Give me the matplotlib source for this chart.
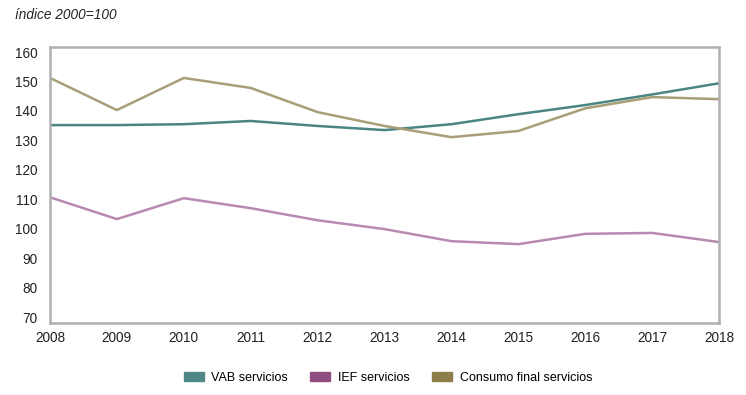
import matplotlib
matplotlib.use("Agg")
import matplotlib.pyplot as plt
from matplotlib.patches import Patch

plt.rcParams['font.family'] = ['Liberation Sans', 'DejaVu Sans']

# datos (índice 2000=100)
years = [2008, 2009, 2010, 2011, 2012, 2013, 2014, 2015, 2016, 2017, 2018]
vab = [135.2, 135.2, 135.5, 136.6, 134.9, 133.5, 135.5, 138.9, 142.0, 145.6, 149.4]
ief = [110.7, 103.3, 110.4, 107.0, 102.9, 99.9, 95.8, 94.8, 98.3, 98.6, 95.5]
consumo = [151.2, 140.3, 151.2, 147.8, 139.6, 134.9, 131.1, 133.2, 140.9, 144.7, 144.0]

labels = ['VAB servicios', 'IEF servicios', 'Consumo final servicios']
line_colors = ['#4a8582', '#b98ab1', '#a89e78']
legend_colors = ['#4e8783', '#8f4e80', '#8c7d4a']

fig = plt.figure(figsize=(7.46, 3.95), dpi=100)
ax = fig.add_axes([0.067, 0.182, 0.897, 0.699])

for vals, c in zip([vab, ief, consumo], line_colors):
    ax.plot(years, vals, color=c, lw=1.8)

ax.set_xlim(2008, 2018)
ax.set_ylim(68, 161.7)
ax.set_xticks(years)
ax.set_yticks(range(70, 161, 10))
ax.tick_params(length=0, labelsize=9.8, colors='#222222')
ax.tick_params(axis='x', pad=6)
ax.tick_params(axis='y', pad=9)
for s in ax.spines.values():
    s.set_color('#b0b0b0')
    s.set_linewidth(1.8)

fig.text(0.02, 0.963, 'índice 2000=100', style='italic', fontsize=9.8,
         color='#222222', va='center')

handles = [Patch(color=c) for c in legend_colors]
fig.legend(handles, labels, loc='center', bbox_to_anchor=(0.52, 0.043),
           ncol=3, frameon=False, fontsize=9, handlelength=1.6,
           handleheight=0.65, columnspacing=1.8, handletextpad=0.6)

fig.savefig('out.png', dpi=100)
